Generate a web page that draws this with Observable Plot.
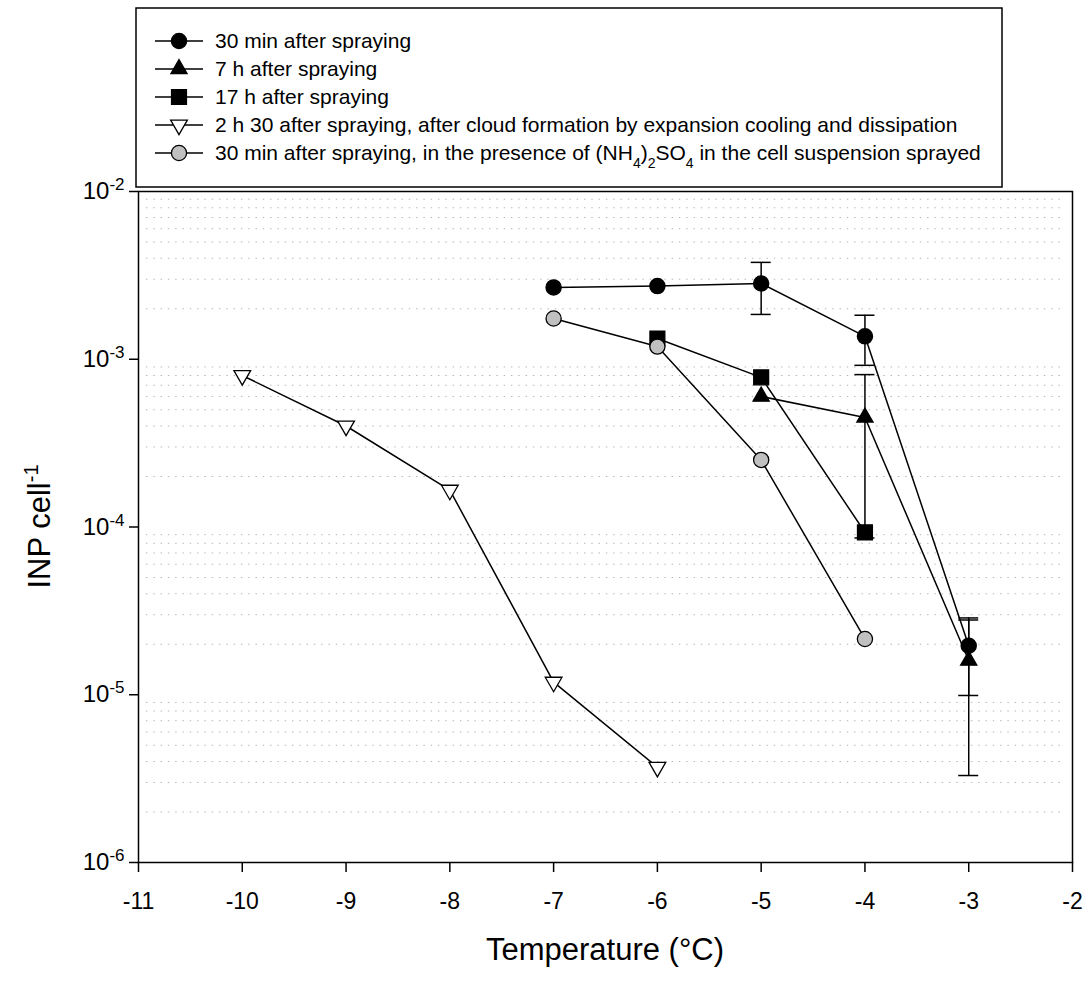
<!DOCTYPE html>
<html>
<head>
<meta charset="utf-8">
<script src="https://cdn.jsdelivr.net/npm/d3@7"></script>
<script src="https://cdn.jsdelivr.net/npm/@observablehq/plot@0.6"></script>
<style>
  html, body { margin: 0; padding: 0; background: #fff; }
  #chart { width: 1088px; height: 981px; }
</style>
</head>
<body>
<div id="chart"></div>
<script>
// ---- data ----
const seriesLabels = [
  "30 min after spraying",
  "7 h after spraying",
  "17 h after spraying",
  "2 h 30 after spraying, after cloud formation by expansion cooling and dissipation",
  "30 min after spraying, in the presence of (NH4)2SO4 in the cell suspension sprayed"
];

const temp30min = [-7, -6, -5, -4, -3];
const inp30min  = [2.68e-3, 2.73e-3, 2.83e-3, 1.37e-3, 1.96e-5];

const temp7h = [-5, -4, -3];
const inp7h  = [6.0e-4, 4.5e-4, 1.6e-5];

const temp17h = [-6, -5, -4];
const inp17h  = [1.33e-3, 7.8e-4, 9.3e-5];

const tempCloud = [-10, -9, -8, -7, -6];
const inpCloud  = [8.0e-4, 4.0e-4, 1.66e-4, 1.19e-5, 3.7e-6];

const tempAmm = [-7, -6, -5, -4];
const inpAmm  = [1.75e-3, 1.19e-3, 2.51e-4, 2.15e-5];

// error bars
const errTemp30min = [-5, -4, -3];
const errLo30min   = [1.85e-3, 9.2e-4, 9.9e-6];
const errHi30min   = [3.78e-3, 1.83e-3, 2.87e-5];

const errTemp7h = [-4, -3];
const errLo7h   = [8.6e-5, 3.3e-6];
const errHi7h   = [8.1e-4, 2.79e-5];

// axes
const xTicks = [-11, -10, -9, -8, -7, -6, -5, -4, -3, -2];
const yExponents = [-6, -5, -4, -3, -2];

// ---- build tables ----
const toRows = (t, v) => t.map((d, i) => ({t: d, v: v[i]}));
const toErr = (t, lo, hi) => t.map((d, i) => ({t: d, lo: lo[i], hi: hi[i]}));

const s1 = toRows(temp30min, inp30min);
const s2 = toRows(temp7h, inp7h);
const s3 = toRows(temp17h, inp17h);
const s4 = toRows(tempCloud, inpCloud);
const s5 = toRows(tempAmm, inpAmm);
const e1 = toErr(errTemp30min, errLo30min, errHi30min);
const e2 = toErr(errTemp7h, errLo7h, errHi7h);

const yTicks = yExponents.map(e => Math.pow(10, e));
const minor = [];
for (const e of yExponents.slice(0, -1)) for (let m = 2; m <= 9; m++) minor.push(m * Math.pow(10, e));

const triangleDown = {
  draw(context, size) {
    const sqrt3 = Math.sqrt(3);
    const y = -Math.sqrt(size / (sqrt3 * 3));
    context.moveTo(0, -y * 2);
    context.lineTo(-sqrt3 * y, y);
    context.lineTo(sqrt3 * y, y);
    context.closePath();
  }
};

const sym = [
  {symbol: "circle", r: 7.6, fill: "black"},
  {symbol: "triangle", r: 6.0, fill: "black"},
  {symbol: "square", r: 8.4, fill: "black"},
  {symbol: triangleDown, r: 6.2, fill: "white"},
  {symbol: "circle", r: 7.6, fill: "#c0c0c0"}
];
const series = [s1, s2, s3, s4, s5];

const lineOpts = {x: "t", y: "v", stroke: "black", strokeWidth: 1.5};
const errBar = (data) => [
  Plot.ruleX(data, {x: "t", y1: "lo", y2: "hi", stroke: "black", strokeWidth: 1.5}),
  Plot.ruleY(data, {y: "lo", x1: "t", x2: "t", insetLeft: -10, insetRight: -10, stroke: "black", strokeWidth: 1.5}),
  Plot.ruleY(data, {y: "hi", x1: "t", x2: "t", insetLeft: -10, insetRight: -10, stroke: "black", strokeWidth: 1.5})
];

const plot = Plot.plot({
  width: 1088,
  height: 981,
  marginLeft: 138,
  marginRight: 16,
  marginTop: 191,
  marginBottom: 119,
  style: {fontFamily: "'Liberation Sans', Arial, sans-serif", fontSize: "22px", background: "white", color: "black"},
  x: {domain: [-11, -2], label: null},
  y: {type: "log", domain: [1e-6, 1e-2], label: null},
  marks: [
    Plot.ruleY(minor, {stroke: "#b4b4b4", strokeWidth: 1, strokeDasharray: "1.4,5.9", insetLeft: 8, insetRight: 7}),
    Plot.axisX({ticks: xTicks, tickSize: 10, tickPadding: 20, strokeWidth: 1.5, tickFormat: d => String(d), fontSize: 23, label: null}),
    Plot.axisY({ticks: yTicks, tickSize: 9, tickPadding: 5, strokeWidth: 1.5, tickFormat: d => String(Math.round(Math.log10(d))), fontSize: 24, label: null}),
    Plot.frame({stroke: "black", strokeWidth: 1.5}),
    ...series.map(s => Plot.line(s, lineOpts)),
    ...errBar(e1),
    ...errBar(e2),
    ...series.map((s, i) => Plot.dot(s, {x: "t", y: "v", symbol: sym[i].symbol, r: sym[i].r, fill: sym[i].fill, stroke: "black", strokeWidth: 1.3}))
  ]
});

document.getElementById("chart").appendChild(plot);

const svg = d3.select(plot);
const font = "'Liberation Sans', Arial, sans-serif";

// tick label size
svg.selectAll('g[aria-label="x-axis tick label"]').attr("font-size", "23px").attr("font-family", font);
svg.selectAll('g[aria-label="x-axis tick label"] text').attr("font-size", "23px");
svg.selectAll('g[aria-label="y-axis tick label"]').attr("font-size", "24px").attr("font-family", font);

// superscript exponents on y tick labels
svg.selectAll('g[aria-label="y-axis tick label"] text').each(function() {
  const t = d3.select(this);
  const exp = t.text();
  t.text("10");
  t.append("tspan").attr("dy", "-9").attr("font-size", "17px").text(exp);
});

// axis titles
svg.append("text")
  .attr("x", (138 + 1072) / 2).attr("y", 960)
  .attr("text-anchor", "middle")
  .attr("font-family", font).attr("font-size", "31px").attr("fill", "black")
  .text("Temperature (°C)");

const yl = svg.append("text")
  .attr("transform", `translate(50, ${(191 + 862) / 2}) rotate(-90)`)
  .attr("text-anchor", "middle")
  .attr("font-family", font).attr("font-size", "31px").attr("fill", "black");
yl.append("tspan").text("INP cell");
yl.append("tspan").attr("dy", "-12").attr("font-size", "20px").text("-1");

// legend
const lg = svg.append("g").attr("font-family", font).attr("font-size", "21px").attr("text-anchor", "start");
lg.append("rect").attr("x", 136).attr("y", 8).attr("width", 866).attr("height", 179)
  .attr("fill", "white").attr("stroke", "black").attr("stroke-width", 1.5);
seriesLabels.forEach((label, i) => {
  const cy = 41 + 28 * i;
  lg.append("line").attr("x1", 155).attr("x2", 203).attr("y1", cy).attr("y2", cy)
    .attr("stroke", "black").attr("stroke-width", 1.5);
  const type = typeof sym[i].symbol === "string"
    ? {circle: d3.symbolCircle, triangle: d3.symbolTriangle, square: d3.symbolSquare}[sym[i].symbol]
    : sym[i].symbol;
  lg.append("path")
    .attr("d", d3.symbol(type, Math.PI * sym[i].r * sym[i].r)())
    .attr("transform", `translate(179, ${cy})`)
    .attr("fill", sym[i].fill).attr("stroke", "black").attr("stroke-width", 1.3);
  const tx = lg.append("text").attr("x", 215).attr("y", cy).attr("dy", "0.35em")
    .attr("text-anchor", "start").attr("fill", "black");
  if (i === 4) {
    tx.append("tspan").text("30 min after spraying, in the presence of (NH");
    tx.append("tspan").attr("baseline-shift", "sub").attr("font-size", "14px").text("4");
    tx.append("tspan").text(")");
    tx.append("tspan").attr("baseline-shift", "sub").attr("font-size", "14px").text("2");
    tx.append("tspan").text("SO");
    tx.append("tspan").attr("baseline-shift", "sub").attr("font-size", "14px").text("4");
    tx.append("tspan").text(" in the cell suspension sprayed");
  } else {
    tx.text(label);
  }
});
</script>
</body>
</html>
